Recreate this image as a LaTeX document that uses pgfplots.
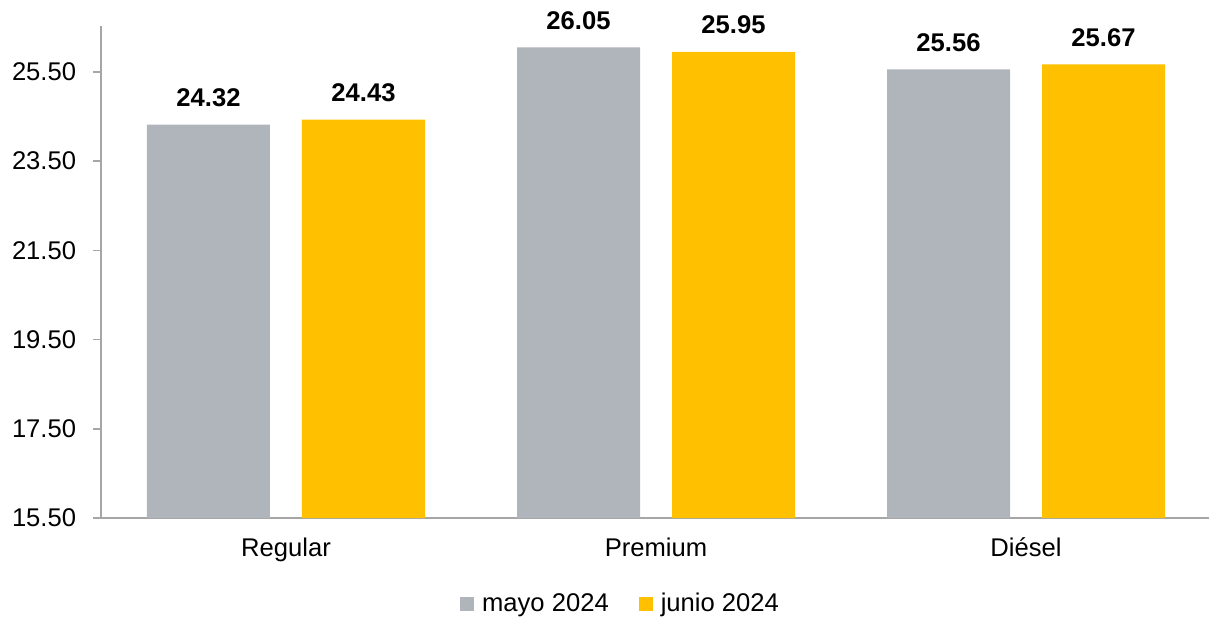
\documentclass[border=0pt]{standalone}
\usepackage{pgfplots}
\pgfplotsset{compat=1.18}
\usepackage{fontspec}
\setmainfont{Liberation Sans}
\definecolor{barGray}{HTML}{AFB5BB}
\definecolor{barGold}{HTML}{FFC000}
\definecolor{axGray}{HTML}{A6A6A6}
\begin{document}
\fontsize{12.8pt}{15pt}\selectfont
\begin{tikzpicture}
\begin{axis}[
  at={(0pt,0pt)}, anchor=south west,
  scale only axis,
  width=555pt, height=246pt,
  xmin=-0.5, xmax=2.5,
  ymin=15.5, ymax=26.53,
  axis x line=bottom, axis y line=left,
  axis line style={-, draw=axGray, line width=0.75pt},
  xtick={0,1,2},
  xticklabels={Regular,Premium,Diésel},
  xtick style={draw=none},
  ytick={15.5,17.5,19.5,21.5,23.5,25.5},
  ytick style={draw=axGray, line width=0.75pt},
  tick align=outside,
  major tick length=4pt,
  yticklabel={\pgfmathprintnumber[fixed,fixed zerofill,precision=2]{\tick}},
  /pgf/number format/assume math mode=true,
  ticklabel style={font=\fontsize{12.8pt}{15pt}\selectfont},
  yticklabel style={xshift=-4pt},
  xticklabel style={yshift=-1.5pt},
  ybar,
  bar width=61.5pt,
  nodes near coords={\pgfmathprintnumber[fixed,fixed zerofill,precision=2]{\pgfplotspointmeta}},
  every node near coord/.append style={font=\fontsize{12.8pt}{15pt}\selectfont\bfseries, yshift=4.5pt},
  legend style={draw=none, at={(0.4685,-0.1748)}, anchor=center, legend columns=2,
    font=\fontsize{12.8pt}{15pt}\selectfont,
    /tikz/every even column/.append style={column sep=13.5pt},
    nodes={inner sep=1.5pt}},
  legend image code/.code={\fill[#1] (0pt,-3.5pt) rectangle (7pt,3.5pt); \path (9.5pt,0pt);},
]
\addplot[fill=barGray, draw=none, bar shift=-38.75pt] coordinates {(0,24.32) (1,26.05) (2,25.56)};
\addplot[fill=barGold, draw=none, bar shift=38.75pt] coordinates {(0,24.43) (1,25.95) (2,25.67)};
\legend{mayo 2024, junio 2024}
\end{axis}
\pgfresetboundingbox
\path (-50.5pt,-50pt) rectangle (554pt,259pt);
\end{tikzpicture}
\end{document}
